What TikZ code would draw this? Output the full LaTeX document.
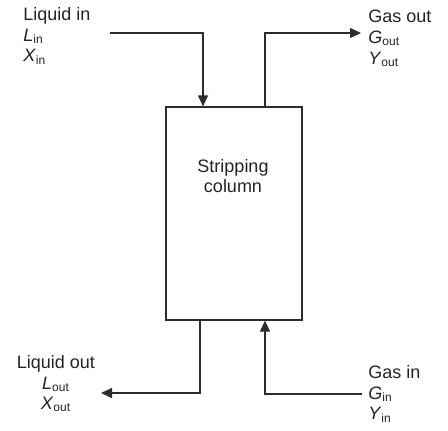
\documentclass[tikz,border=0pt]{standalone}
\usepackage{fontspec}
\setmainfont{Liberation Sans}
\usetikzlibrary{arrows.meta,positioning,calc}
\newcommand{\strm}[2]{\textit{#1}\textsubscript{#2}}
\definecolor{clrLine}{RGB}{45,45,45}
\definecolor{clrText}{RGB}{35,35,35}
\tikzset{
  column/.style={rectangle,draw=clrLine,line width=0.6pt,minimum width=68pt,
    minimum height=106.5pt,inner sep=0pt},
  stream/.style={font=\fontsize{9}{10.3}\selectfont,text=clrText,align=left,inner sep=0pt},
  pipe/.style={line width=0.6pt,draw=clrLine},
  flow/.style={pipe,-{Triangle[length=5.5pt,width=5pt]}}
}
\begin{document}
\begin{tikzpicture}[x=0.5pt,y=-0.5pt]
  \useasboundingbox (0,0) rectangle (448,430);
  \node[column] (col) at (234,213.5) {};
  \node[stream,align=center] (colname) at (233,176) {Stripping\\column};
  \node[stream,anchor=north west] (lin) at (23,7)
    {Liquid in\\\strm{L}{in}\\\strm{X}{in}};
  \node[stream,anchor=north west] (gout) at (368,10)
    {Gas out\\\strm{G}{out}\\\strm{Y}{out}};
  \node[stream,anchor=north,align=center] (lout) at (56,355)
    {Liquid out\\\strm{L}{out}\\\strm{X}{out}};
  \node[stream,anchor=north west] (gin) at (368,365)
    {Gas in\\\strm{G}{in}\\\strm{Y}{in}};
  \coordinate (linEnd) at (110,33);
  \coordinate (goutEnd) at (361,33);
  \coordinate (loutEnd) at (101,393);
  \coordinate (ginEnd) at (362,394);
  \draw[flow] (linEnd) -| ($(col.north)+(-31,0)$);
  \draw[flow] ($(col.north)+(31,0)$) |- (goutEnd);
  \draw[flow] ($(col.south)+(-34,0)$) |- (loutEnd);
  \draw[flow] (ginEnd) -| ($(col.south)+(31,0)$);
\end{tikzpicture}
\end{document}
